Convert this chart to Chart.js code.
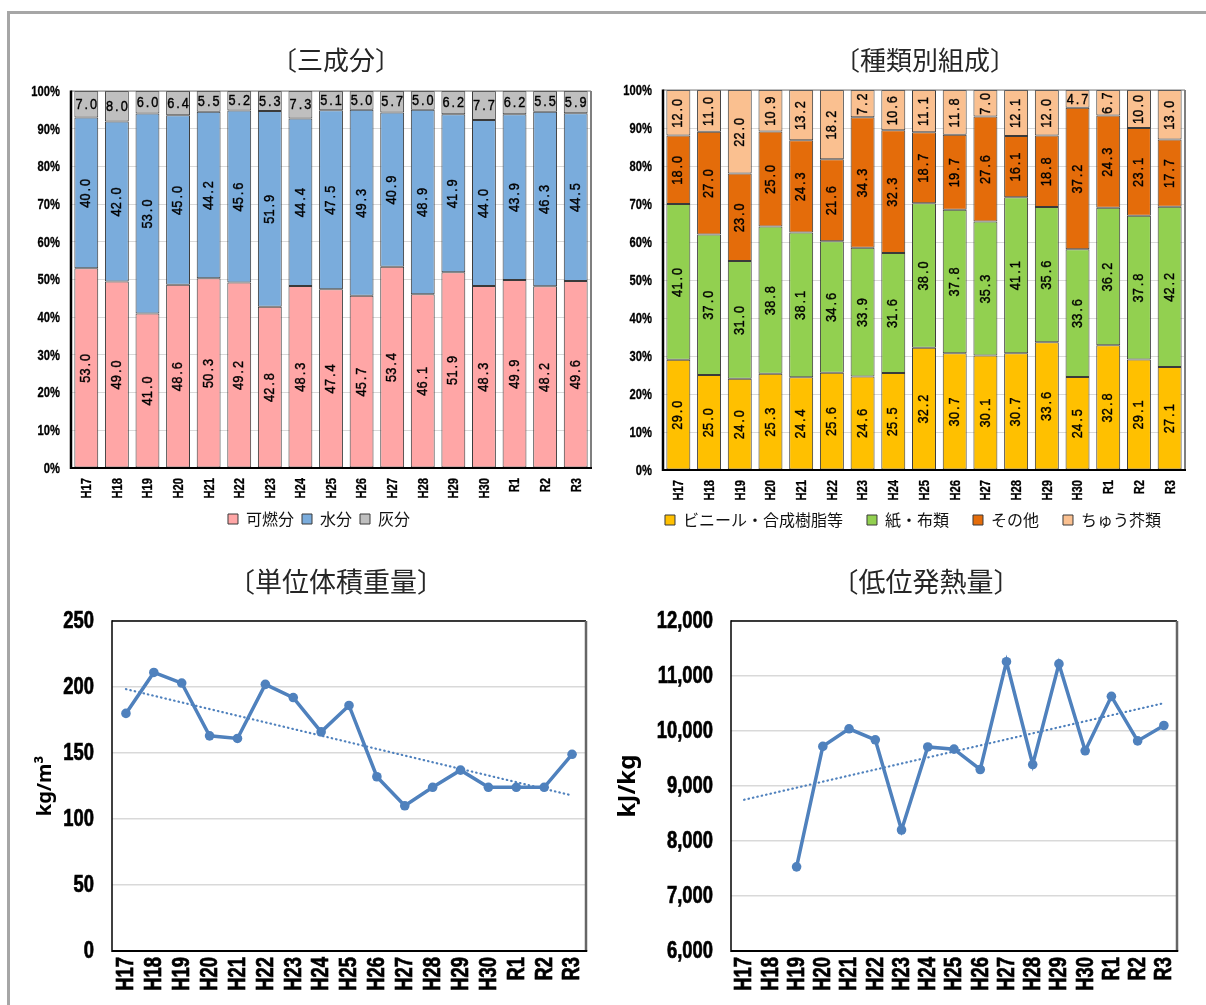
<!DOCTYPE html>
<html lang="ja">
<head>
<meta charset="utf-8">
<title>ごみ質分析の推移</title>
<script src="https://cdn.jsdelivr.net/npm/chart.js"></script>
<style>
  html, body { margin: 0; padding: 0; background: #fff; }
  #page { position: relative; width: 1206px; height: 1005px; overflow: hidden; background: #fff; }
  #frame { position: absolute; left: 7px; top: 11px; width: 1199px; height: 994px;
           border-left: 3px solid #a6a6a6; border-top: 3px solid #a6a6a6; box-sizing: border-box; }
  canvas { position: absolute; }
</style>
</head>
<body>
<div id="page">
  <div id="frame"></div>
  <canvas id="c1" width="600" height="560" style="left:0;top:0"></canvas>
  <canvas id="c2" width="606" height="560" style="left:600px;top:0"></canvas>
  <canvas id="c3" width="600" height="445" style="left:0;top:560px"></canvas>
  <canvas id="c4" width="606" height="445" style="left:600px;top:560px"></canvas>
</div>
<script>
// ---- data -------------------------------------------------------------
const years = ['H17','H18','H19','H20','H21','H22','H23','H24','H25','H26','H27','H28','H29','H30','R1','R2','R3'];

// 三成分 (%)
const combustible = [53.0,49.0,41.0,48.6,50.3,49.2,42.8,48.3,47.4,45.7,53.4,46.1,51.9,48.3,49.9,48.2,49.6];
const moisture    = [40.0,42.0,53.0,45.0,44.2,45.6,51.9,44.4,47.5,49.3,40.9,48.9,41.9,44.0,43.9,46.3,44.5];
const ash         = [7.0,8.0,6.0,6.4,5.5,5.2,5.3,7.3,5.1,5.0,5.7,5.0,6.2,7.7,6.2,5.5,5.9];

// 種類別組成 (%)
const plastics     = [29.0,25.0,24.0,25.3,24.4,25.6,24.6,25.5,32.2,30.7,30.1,30.7,33.6,24.5,32.8,29.1,27.1];
const paperCloth   = [41.0,37.0,31.0,38.8,38.1,34.6,33.9,31.6,38.0,37.8,35.3,41.1,35.6,33.6,36.2,37.8,42.2];
const others       = [18.0,27.0,23.0,25.0,24.3,21.6,34.3,32.3,18.7,19.7,27.6,16.1,18.8,37.2,24.3,23.1,17.7];
const kitchenWaste = [12.0,11.0,22.0,10.9,13.2,18.2,7.2,10.6,11.1,11.8,7.0,12.1,12.0,4.7,6.7,10.0,13.0];

// 単位体積重量 (kg/m3)
const bulkDensity = [180,211,203,163,161,202,192,166,186,132,110,124,137,124,124,124,149];

// 低位発熱量 (kJ/kg)
const heatingValue = [null,null,7530,9720,10040,9840,8200,9710,9670,9300,11260,9390,11220,9640,10630,9820,10100];

// axis ticks
const percentTicks = [0,10,20,30,40,50,60,70,80,90,100];
const densityTicks = [0,50,100,150,200,250];
const heatTicks    = [6000,7000,8000,9000,10000,11000,12000];

// ---- helpers ----------------------------------------------------------
const SANS = "'Liberation Sans','Arial',sans-serif";
const JP = "'Noto Sans CJK JP','Noto Sans',sans-serif";
const BLUE = '#4f81bd';

// each part as a share of the column total (100% stacked columns)
function toShares(parts) {
  return parts.map(arr => arr.map((v, i) => v / parts.reduce((s, a) => s + a[i], 0) * 100));
}

// least-squares line over the available points, evaluated at every category
function linearTrend(values) {
  const pts = values.map((v, i) => [i, v]).filter(p => p[1] !== null);
  const n = pts.length;
  const mx = pts.reduce((s, p) => s + p[0], 0) / n;
  const my = pts.reduce((s, p) => s + p[1], 0) / n;
  const sxy = pts.reduce((s, p) => s + (p[0] - mx) * (p[1] - my), 0);
  const sxx = pts.reduce((s, p) => s + (p[0] - mx) * (p[0] - mx), 0);
  const slope = sxy / sxx;
  return values.map((_, i) => my + slope * (i - mx));
}

const fixedTicks = list => scale => { scale.ticks = list.map(v => ({ value: v })); };

const formatTick = (v, kind) =>
  kind === 'percent' ? v + '%' : kind === 'comma' ? v.toLocaleString('en-US') : String(v);

// filled text with an optional thin outline to darken it
function heavyText(ctx, text, weight) {
  ctx.fillText(text, 0, 0);
  if (weight > 0) {
    ctx.lineWidth = weight;
    ctx.strokeStyle = ctx.fillStyle;
    ctx.strokeText(text, 0, 0);
  }
}

// chart heading
const caption = {
  id: 'caption',
  afterDraw(chart, args, o) {
    const ctx = chart.ctx;
    ctx.save();
    ctx.font = o.font;
    ctx.fillStyle = o.color || '#262626';
    ctx.textAlign = 'center';
    ctx.textBaseline = 'middle';
    ctx.fillText(o.text, o.x, o.y);
    ctx.restore();
  }
};

// condensed axis labels placed at the library's tick positions
const narrowTicks = {
  id: 'narrowTicks',
  afterDraw(chart, args, o) {
    const ctx = chart.ctx;
    const { x, y } = chart.scales;
    const area = chart.chartArea;
    ctx.save();
    ctx.fillStyle = '#000';
    ctx.textBaseline = 'middle';
    ctx.textAlign = 'right';
    ctx.font = o.yFont;
    y.ticks.forEach((t, i) => {
      ctx.save();
      ctx.translate(area.left - o.yPad, y.getPixelForTick(i) + 1);
      ctx.scale(o.squeeze, 1);
      heavyText(ctx, formatTick(t.value, o.yFormat), o.stroke);
      ctx.restore();
    });
    ctx.font = o.xFont;
    x.ticks.forEach((t, i) => {
      ctx.save();
      ctx.translate(x.getPixelForTick(i) + 1, area.bottom + o.xPad);
      ctx.rotate(-Math.PI / 2);
      ctx.scale(o.squeeze, 1);
      heavyText(ctx, x.getLabelForValue(t.value), o.stroke);
      ctx.restore();
    });
    ctx.restore();
  }
};

// value labels inside each stacked segment, set on a fixed character pitch
const segmentLabels = {
  id: 'segmentLabels',
  afterDatasetsDraw(chart, args, o) {
    const ctx = chart.ctx;
    chart.data.datasets.forEach((ds, di) => {
      const meta = chart.getDatasetMeta(di);
      meta.data.forEach((bar, i) => {
        const text = ds.values[i].toFixed(1);
        const p = bar.getProps(['x', 'y', 'base'], true);
        const h = Math.abs(p.base - p.y);
        const w = text.length * o.pitch;
        ctx.save();
        ctx.font = o.font;
        ctx.fillStyle = '#000';
        ctx.textAlign = 'center';
        ctx.textBaseline = 'middle';
        ctx.translate(p.x, (p.y + p.base) / 2 + 0.5);
        if (!(ds.flatLabels || w > h)) ctx.rotate(-Math.PI / 2);
        [...text].forEach((ch, k) => {
          ctx.save();
          ctx.translate(-w / 2 + o.pitch * (k + 0.5), 0);
          ctx.scale(o.squeeze, 1);
          heavyText(ctx, ch, o.stroke);
          ctx.restore();
        });
        ctx.restore();
      });
    });
  }
};

// plot-area outline
const plotFrame = {
  id: 'plotFrame',
  afterDraw(chart, args, o) {
    const { left, top, right, bottom } = chart.chartArea;
    const ctx = chart.ctx;
    const seg = (x1, y1, x2, y2, s) => {
      ctx.beginPath();
      ctx.strokeStyle = s[0];
      ctx.lineWidth = s[1];
      ctx.moveTo(x1, y1);
      ctx.lineTo(x2, y2);
      ctx.stroke();
    };
    ctx.save();
    seg(left, top, right, top, o.top);
    seg(right, top, right, bottom, o.right);
    seg(left, bottom, right + o.right[1] / 2, bottom, o.bottom);
    seg(left, top - o.top[1] / 2, left, bottom + o.bottom[1] / 2, o.left);
    ctx.restore();
  }
};

Chart.defaults.color = '#000';
Chart.defaults.animation = false;

function stackedColumns(canvasId, series, cfg) {
  const shares = toShares(series.map(s => s.values));
  return new Chart(document.getElementById(canvasId), {
    type: 'bar',
    data: {
      labels: years,
      datasets: series.map((s, k) => ({
        label: s.label,
        values: s.values,
        data: shares[k],
        backgroundColor: s.color,
        flatLabels: !!s.flat
      }))
    },
    options: {
      responsive: false,
      layout: { padding: cfg.padding },
      datasets: { bar: { categoryPercentage: 1, barPercentage: 0.78, borderColor: '#3a3a3a', borderWidth: 1, borderSkipped: false } },
      scales: {
        x: {
          stacked: true,
          grid: { display: false, drawTicks: false },
          border: { display: false },
          ticks: { display: false, autoSkip: false },
          afterFit: s => { s.height = cfg.xHeight; }
        },
        y: {
          stacked: true, min: 0, max: 100,
          afterBuildTicks: fixedTicks(percentTicks),
          grid: { color: '#d9d9d9', lineWidth: 1, drawTicks: false },
          border: { display: false },
          ticks: { display: false },
          afterFit: s => { s.width = cfg.yWidth; }
        }
      },
      plugins: {
        legend: {
          position: 'bottom', align: cfg.legendAlign,
          labels: { boxWidth: 10, boxHeight: 10, padding: cfg.legendPad, color: '#111',
                    font: { family: JP, size: 16 } }
        },
        tooltip: { enabled: false },
        caption: { text: cfg.title, x: cfg.titleX, y: 60, font: "26px " + JP },
        narrowTicks: { yFont: "bold 14px " + SANS, xFont: "bold 14px " + SANS, squeeze: 0.8,
                       yPad: 11, xPad: 10, yFormat: 'percent', stroke: 0.3 },
        segmentLabels: { font: "15px " + SANS, squeeze: 0.85, pitch: 7.3, stroke: 0.4 },
        plotFrame: { top: ['#7f7f7f', 1], right: ['#7f7f7f', 2], bottom: ['#000', 2], left: ['#000', 2.5] }
      }
    },
    plugins: [caption, narrowTicks, segmentLabels, plotFrame]
  });
}

stackedColumns('c1', [
  { label: '可燃分', values: combustible, color: '#ffa6a6' },
  { label: '水分', values: moisture, color: '#7aacdc' },
  { label: '灰分', values: ash, color: '#bfbfbf', flat: true }
], { padding: { left: 47, right: 9, top: 91, bottom: 23 }, yWidth: 24, xHeight: 35,
     legendAlign: 'center', legendPad: 8, title: '〔三成分〕', titleX: 336 });

stackedColumns('c2', [
  { label: 'ビニール・合成樹脂等', values: plastics, color: '#ffc000' },
  { label: '紙・布類', values: paperCloth, color: '#92d050' },
  { label: 'その他', values: others, color: '#e46c0a' },
  { label: 'ちゅう芥類', values: kitchenWaste, color: '#fac090' }
], { padding: { left: 0, right: 21, top: 90, bottom: 22 }, yWidth: 63, xHeight: 18,
     legendAlign: 'end', legendPad: 24, title: '〔種類別組成〕', titleX: 325 });

function trendLine(canvasId, values, cfg) {
  return new Chart(document.getElementById(canvasId), {
    type: 'line',
    data: {
      labels: years,
      datasets: [
        { label: '線形近似', data: linearTrend(values), borderColor: BLUE, borderWidth: 2.2,
          borderDash: [0.5, 4], borderCapStyle: 'round', pointRadius: 0, fill: false },
        { label: cfg.title, data: values, borderColor: BLUE, backgroundColor: BLUE, borderWidth: 3.5,
          pointRadius: 4.8, pointBorderWidth: 0, pointBackgroundColor: BLUE, tension: 0, spanGaps: false }
      ]
    },
    options: {
      responsive: false,
      layout: { padding: cfg.padding },
      scales: {
        x: {
          offset: true,
          grid: { display: false, drawTicks: false },
          border: { display: false },
          ticks: { display: false, autoSkip: false },
          afterFit: s => { s.height = 54; }
        },
        y: {
          min: cfg.min, max: cfg.max,
          afterBuildTicks: fixedTicks(cfg.ticks),
          grid: { color: '#d9d9d9', lineWidth: 1.5, drawTicks: false },
          border: { display: false },
          ticks: { display: false },
          title: { display: true, text: cfg.unit, padding: { top: cfg.unitPad, bottom: 0 },
                   font: { family: "'Noto Sans','DejaVu Sans',sans-serif", size: cfg.unitSize, weight: 'bold' } },
          afterFit: s => { s.width = cfg.yWidth; }
        }
      },
      plugins: {
        legend: { display: false },
        tooltip: { enabled: false },
        caption: { text: '〔' + cfg.title + '〕', x: cfg.titleX, y: 22, font: "27px " + JP },
        narrowTicks: { yFont: "bold 23px " + SANS, xFont: "bold 23px " + SANS, squeeze: 0.8,
                       yPad: 18, xPad: 6, yFormat: cfg.format, stroke: 0.7 },
        plotFrame: { top: ['#000', 1.5], right: ['#666', 2.5], bottom: ['#000', 2], left: ['#000', 1.5] }
      }
    },
    plugins: [caption, narrowTicks, plotFrame]
  });
}

trendLine('c3', bulkDensity, {
  title: '単位体積重量', unit: 'kg/m³', unitSize: 20, unitPad: 33,
  min: 0, max: 250, ticks: densityTicks, format: 'plain',
  padding: { left: 0, right: 14, top: 61, bottom: 0 }, yWidth: 112, titleX: 336
});

trendLine('c4', heatingValue, {
  title: '低位発熱量', unit: 'kJ/kg', unitSize: 24, unitPad: 14,
  min: 6000, max: 12000, ticks: heatTicks, format: 'comma',
  padding: { left: 0, right: 29, top: 61, bottom: 0 }, yWidth: 131, titleX: 326
});
</script>
</body>
</html>
